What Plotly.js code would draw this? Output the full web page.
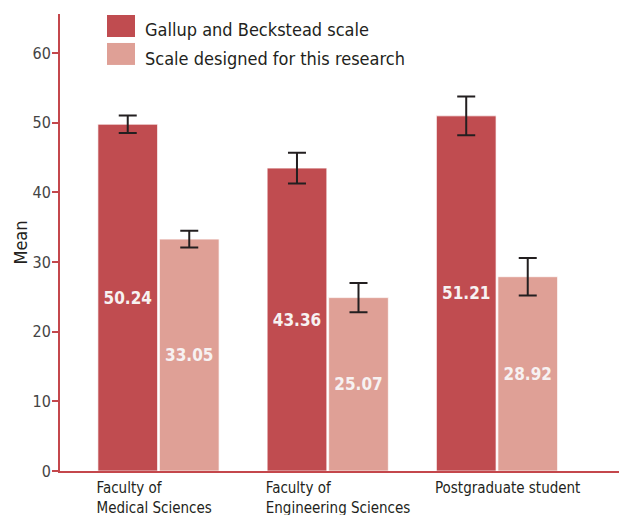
<!DOCTYPE html>
<html>
<head>
<meta charset="utf-8">
<script src="https://cdn.plot.ly/plotly-3.0.1.min.js"></script>
<style>html,body{margin:0;padding:0;background:#fff;}#chart{width:619px;height:515px;}</style>
</head>
<body>
<div id="chart"></div>
<script>
const categories = ["Faculty of<br>Medical Sciences", "Faculty of<br>Engineering Sciences", "Postgraduate student"];
const seriesNames = ["Gallup and Beckstead scale", "Scale designed for this research"];
const gallupMeans = [49.8, 43.5, 51.0];
const gallupErrors = [1.25, 2.2, 2.8];
const gallupLabels = ["50.24", "43.36", "51.21"];
const researchMeans = [33.3, 24.9, 27.9];
const researchErrors = [1.2, 2.1, 2.7];
const researchLabels = ["33.05", "25.07", "28.92"];
const yTicks = [0, 10, 20, 30, 40, 50, 60];

const FONT = "DejaVu Sans Condensed";
const RED = "#c04c50";
const PINK = "#dfa096";
const AXIS = "#c4474c";

function barTrace(name, y, err, labels, color) {
  return {
    type: "bar", name: name, x: categories, y: y, text: labels,
    textposition: "inside", insidetextanchor: "middle", constraintext: "none",
    textfont: {family: FONT, size: 17, color: "#f7f2f2", weight: "bold"},
    marker: {color: color, line: {color: "rgba(255,255,255,0.7)", width: 1}},
    error_y: {type: "data", array: err, visible: true, color: "#231f20", thickness: 2, width: 9},
    hoverinfo: "skip", showlegend: false
  };
}

const data = [
  barTrace(seriesNames[0], gallupMeans, gallupErrors, gallupLabels, RED),
  barTrace(seriesNames[1], researchMeans, researchErrors, researchLabels, PINK)
];

const L = 60, T = 14, W = 619, H = 515, PH = 457.5, PW = W - L;
function px(x) { return (x - L) / PW; }
function py(y) { return (T + PH - y) / PH; }

const shapes = [
  {type: "rect", xref: "paper", yref: "paper", x0: px(107), x1: px(135), y0: py(37), y1: py(15), fillcolor: RED, line: {width: 0}},
  {type: "rect", xref: "paper", yref: "paper", x0: px(107), x1: px(135), y0: py(65), y1: py(43), fillcolor: PINK, line: {width: 0}}
];
const annotations = [
  {xref: "paper", yref: "paper", x: px(143), y: py(30), xanchor: "left", yanchor: "middle", showarrow: false, text: seriesNames[0], font: {family: FONT, size: 18, color: "#231f20"}},
  {xref: "paper", yref: "paper", x: px(143), y: py(59), xanchor: "left", yanchor: "middle", showarrow: false, text: seriesNames[1], font: {family: FONT, size: 18, color: "#231f20"}}
];

const layout = {
  width: W, height: H,
  margin: {l: L, r: 0, t: T, b: H - T - PH},
  paper_bgcolor: "#fff", plot_bgcolor: "#fff",
  barmode: "group", bargap: 0.273, bargroupgap: 0.03,
  font: {family: FONT, color: "#231f20"},
  xaxis: {
    type: "category", range: [-0.582, 2.721], showgrid: false, zeroline: false,
    showline: true, linecolor: AXIS, linewidth: 2, ticks: "", layer: "below traces",
    tickangle: 0, automargin: false,
    ticklabelposition: "outside right", ticklabelshift: -63, ticklabelstandoff: 2,
    tickfont: {family: FONT, size: 15, color: "#231f20"}
  },
  yaxis: {
    range: [0, 65.63], tickvals: yTicks, showgrid: false, zeroline: false,
    showline: true, linecolor: AXIS, linewidth: 2, ticks: "outside", ticklen: 6, tickwidth: 2, tickcolor: AXIS,
    layer: "below traces", automargin: false, ticklabelstandoff: -2,
    tickfont: {family: FONT, size: 16, color: "#444"},
    title: {text: "Mean", font: {family: FONT, size: 18, color: "#231f20"}, standoff: 0}
  },
  shapes: shapes, annotations: annotations
};

Plotly.newPlot("chart", data, layout, {displayModeBar: false, staticPlot: true});
</script>
</body>
</html>
